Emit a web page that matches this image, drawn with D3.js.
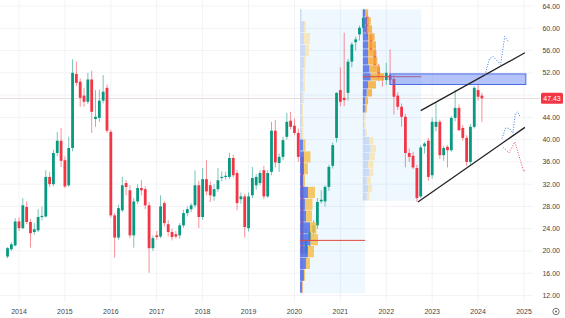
<!DOCTYPE html>
<html>
<head>
<meta charset="utf-8">
<script src="https://cdn.jsdelivr.net/npm/d3@7/dist/d3.min.js"></script>
<style>
body { margin: 0; background: #fff; }
svg { display: block; font-family: "Liberation Sans", Arial, sans-serif; }
</style>
</head>
<body>
<svg id="chart" width="565" height="318"></svg>
<script>
// monthly candles, first one is Oct 2013 : [open, high, low, close]
var firstMonth = 2013 + 9 / 12;
var candles = [
  [19.0, 20.7, 18.7, 20.5], [20.3, 21.6, 20.0, 21.2], [21.0, 25.9, 20.8, 25.3],
  [25.3, 26.0, 23.6, 24.1], [24.1, 29.5, 23.9, 28.2], [27.9, 28.9, 24.8, 25.2],
  [25.2, 25.8, 20.6, 23.2], [23.4, 25.0, 22.9, 23.9], [23.7, 27.5, 23.4, 26.1],
  [26.1, 28.0, 25.5, 26.3], [26.2, 34.5, 26.0, 33.3], [33.3, 34.2, 31.5, 32.0],
  [32.0, 38.2, 31.6, 37.6], [37.6, 41.4, 37.0, 39.8], [39.8, 42.1, 35.1, 36.2],
  [36.3, 37.0, 31.3, 31.6], [31.8, 40.5, 31.5, 38.5], [38.5, 54.4, 37.9, 52.0],
  [51.8, 54.0, 49.6, 50.2], [50.4, 51.0, 45.9, 47.5], [47.9, 49.3, 45.9, 46.8],
  [46.8, 52.0, 46.4, 50.8], [50.8, 52.4, 41.2, 45.0], [43.7, 48.9, 42.3, 44.1],
  [43.9, 49.0, 43.2, 47.0], [47.0, 51.6, 46.5, 48.6], [49.3, 49.9, 41.2, 41.6],
  [41.4, 41.8, 26.0, 26.4], [26.4, 26.8, 18.8, 22.4], [22.4, 28.3, 22.0, 27.7],
  [27.3, 33.3, 27.0, 31.8], [32.2, 32.7, 30.0, 31.5], [30.9, 31.8, 22.3, 22.8],
  [22.8, 29.5, 20.6, 28.9], [28.9, 32.0, 28.4, 31.3], [31.3, 32.7, 30.0, 30.9],
  [31.1, 31.6, 27.5, 28.2], [28.2, 28.8, 16.1, 20.5], [20.5, 22.8, 20.0, 22.3],
  [22.8, 23.6, 22.0, 22.5], [22.6, 30.0, 22.3, 28.0], [28.6, 29.0, 24.4, 25.0],
  [24.8, 25.5, 22.6, 23.4], [23.4, 24.0, 21.9, 22.5], [23.0, 23.6, 22.2, 22.6],
  [22.8, 25.0, 22.2, 24.6], [24.6, 27.4, 24.2, 26.8], [26.8, 28.0, 26.2, 27.5],
  [27.5, 28.6, 27.0, 28.2], [28.2, 34.5, 27.8, 31.8], [31.8, 32.6, 24.1, 26.1],
  [26.1, 34.9, 25.6, 32.9], [32.9, 36.3, 30.0, 30.7], [31.8, 32.5, 28.8, 30.0],
  [29.8, 32.0, 29.0, 31.1], [31.1, 34.9, 30.6, 32.7], [33.1, 34.3, 32.5, 33.3],
  [33.3, 34.2, 32.8, 33.5], [33.3, 37.6, 32.9, 36.7], [36.7, 37.3, 33.2, 33.6],
  [34.0, 34.5, 27.3, 28.6], [29.3, 30.5, 28.5, 29.8], [29.8, 30.3, 22.4, 24.3],
  [24.1, 30.5, 23.5, 29.8], [30.0, 35.1, 29.5, 33.1], [31.8, 33.8, 31.0, 33.3],
  [32.2, 34.5, 31.8, 34.0], [34.5, 35.3, 29.3, 29.8], [29.8, 34.5, 29.5, 34.0],
  [34.2, 43.2, 33.6, 41.6], [41.6, 43.5, 35.0, 35.9], [35.8, 37.5, 34.2, 36.9],
  [36.9, 40.5, 36.3, 39.9], [40.5, 44.8, 40.0, 43.2], [43.4, 45.0, 41.8, 42.3],
  [42.5, 43.8, 40.8, 41.2], [41.2, 42.0, 36.0, 36.9], [36.9, 37.5, 12.4, 19.5],
  [19.5, 24.0, 18.5, 22.0], [22.0, 24.5, 20.5, 23.5], [23.3, 25.5, 22.5, 24.6],
  [24.6, 29.5, 24.0, 28.8], [28.9, 30.9, 28.5, 29.2], [28.9, 31.8, 28.0, 31.5],
  [31.5, 35.5, 30.8, 35.1], [35.3, 39.5, 34.8, 39.0], [40.3, 48.5, 39.5, 48.4],
  [48.9, 53.0, 46.0, 46.8], [47.5, 59.2, 46.0, 47.1], [48.4, 54.5, 47.0, 54.0],
  [54.0, 57.5, 53.0, 57.1], [57.5, 58.5, 56.0, 58.0], [58.9, 60.5, 57.8, 60.1],
  [60.1, 63.4, 59.0, 61.9], [62.1, 63.0, 58.5, 59.2], [58.9, 59.5, 55.5, 56.0],
  [56.0, 57.0, 52.5, 53.4], [53.0, 53.6, 50.5, 51.3], [51.0, 51.8, 49.5, 50.8],
  [50.7, 53.8, 49.8, 52.0], [51.6, 56.2, 49.9, 50.7], [50.9, 51.6, 44.5, 47.7],
  [47.9, 48.5, 45.3, 45.9], [45.9, 46.5, 42.3, 44.1], [44.1, 44.6, 35.0, 37.6],
  [37.6, 38.4, 36.0, 36.9], [37.1, 37.8, 34.7, 35.0], [34.9, 35.5, 28.8, 29.5],
  [29.8, 39.0, 29.5, 38.6], [38.8, 39.6, 37.5, 39.3], [39.8, 40.3, 32.6, 33.3],
  [33.6, 44.0, 33.0, 43.2], [42.3, 46.6, 41.5, 43.2], [43.2, 43.6, 36.5, 37.2],
  [37.2, 38.8, 36.2, 38.5], [38.7, 39.0, 35.0, 38.1], [38.1, 44.2, 37.8, 43.9],
  [43.9, 48.9, 43.3, 45.7], [45.7, 46.3, 41.5, 41.7], [42.1, 42.6, 39.8, 40.3],
  [40.3, 40.8, 35.3, 36.0], [36.0, 42.8, 35.5, 42.3], [42.3, 49.6, 42.0, 49.3],
  [48.9, 50.0, 47.0, 47.7], [47.9, 48.4, 43.2, 47.43]
];

var yearTicks = [2014, 2015, 2016, 2017, 2018, 2019, 2020, 2021, 2022, 2023, 2024, 2025];
var priceTicks = [12, 16, 20, 24, 28, 32, 36, 40, 44, 48, 52, 56, 60, 64];
var lastPrice = 47.43;

// volume profile 1 (2020 -> mid 2021), 24 rows from bottom : up / down volume
var vp1Range = { t0: 2020.12, t1: 2021.54, lo: 12.4, hi: 63.4, poc: 21.9, vaLo: 0, vaHi: 12 };
var vp1Up   = [2, 4, 6, 8, 10.5, 10, 6, 5, 8, 3, 4, 4, 3, 2, 2, 2, 2.5, 3, 3, 4, 5, 4, 4, 1];
var vp1Down = [0.5, 1, 4, 6, 7.5, 6.5, 6, 7.5, 7, 2, 4, 6.5, 2.5, 1.5, 1.5, 1, 1.5, 2, 2, 2, 4, 6, 2, 1];

// volume profile 2 (mid 2021 -> late 2022)
var vp2Range = { t0: 2021.49, t1: 2022.76, lo: 29.0, hi: 63.4, poc: 51.3, vaLo: 11, vaHi: 23 };
var vp2Up   = [3, 4, 3, 5, 4, 5, 6, 5, 2, 1, 1, 1.5, 2, 3, 4, 6, 5, 4, 4, 4, 4, 3, 3, 2];
var vp2Down = [2, 3, 3, 3, 4, 4, 4, 3, 1, 1, 1, 1.5, 2, 4, 6, 10, 8, 7, 6, 6, 5, 4, 3, 2];

// drawings
var zoneBox = { t0: 2022.08, t1: 2025.04, lo: 49.9, hi: 51.8 };
var channelTop = [[2022.75, 45.2], [2025.02, 55.6]];
var channelBottom = [[2022.69, 28.8], [2025.02, 42.2]];
var pathBlueUp = [[2024.15, 51.6], [2024.25, 54.6], [2024.33, 54.9], [2024.49, 53.5], [2024.58, 58.5], [2024.66, 57.6]];
var pathBlueDown = [[2024.52, 40.2], [2024.6, 42.1], [2024.68, 42.0], [2024.76, 41.2], [2024.81, 44.6], [2024.86, 45.0], [2024.91, 44.2]];
var pathRedDown = [[2024.55, 38.6], [2024.67, 37.6], [2024.8, 39.6], [2024.92, 36.3], [2024.99, 34.3], [2025.05, 34.6]];

var green = "#089981", red = "#f23645";

var svg = d3.select("#chart");
var x = d3.scaleLinear().domain([2014, 2025]).range([19, 524]);
var y = d3.scaleLinear().domain([12, 64]).range([295.5, 6]);
var plotRight = 533, plotBottom = 302;

// grid
svg.append("g").selectAll("line").data(priceTicks).enter().append("line")
  .attr("x1", 0).attr("x2", plotRight)
  .attr("y1", function(d) { return y(d); }).attr("y2", function(d) { return y(d); })
  .attr("stroke", "#f2f3f6").attr("stroke-width", 1);
svg.append("g").selectAll("line").data(yearTicks).enter().append("line")
  .attr("x1", function(d) { return x(d); }).attr("x2", function(d) { return x(d); })
  .attr("y1", 0).attr("y2", plotBottom)
  .attr("stroke", "#f2f3f6").attr("stroke-width", 1);

// volume profile backgrounds
[vp1Range, vp2Range].forEach(function(r) {
  svg.append("rect")
    .attr("x", x(r.t0)).attr("y", y(r.hi))
    .attr("width", x(r.t1) - x(r.t0)).attr("height", y(r.lo) - y(r.hi))
    .attr("fill", "#2196f3").attr("fill-opacity", 0.07);
});

// last price line
svg.append("line")
  .attr("x1", 0).attr("x2", 540)
  .attr("y1", Math.round(y(lastPrice)) + 0.5).attr("y2", Math.round(y(lastPrice)) + 0.5)
  .attr("stroke", "#e9dcde").attr("stroke-width", 1);

// candles
var bw = 2.8;
var cg = svg.append("g");
candles.forEach(function(c, i) {
  var t = firstMonth + i / 12;
  var cx = x(t);
  var up = c[3] >= c[0];
  var col = up ? green : red;
  cg.append("line")
    .attr("x1", cx).attr("x2", cx)
    .attr("y1", y(c[1])).attr("y2", y(c[2]))
    .attr("stroke", col).attr("stroke-opacity", 0.55).attr("stroke-width", 1);
  var top = y(Math.max(c[0], c[3])), bot = y(Math.min(c[0], c[3]));
  cg.append("rect")
    .attr("x", cx - bw / 2).attr("y", top)
    .attr("width", bw).attr("height", Math.max(1, bot - top))
    .attr("fill", col);
});

// volume profiles
function drawProfile(r, upVol, downVol, maxW, downCol) {
  var rows = upVol.length;
  var step = (r.hi - r.lo) / rows;
  var maxVol = d3.max(upVol.map(function(u, i) { return u + downVol[i]; }));
  var w = d3.scaleLinear().domain([0, maxVol]).range([0, maxW]);
  var g = svg.append("g");
  var x0 = x(r.t0);
  upVol.forEach(function(u, i) {
    var inVa = i >= r.vaLo && i <= r.vaHi;
    var y0 = y(r.lo + (i + 1) * step), h = y(r.lo + i * step) - y0 - 0.6;
    g.append("rect").attr("x", x0).attr("y", y0).attr("width", w(u)).attr("height", h)
      .attr("fill", inVa ? "#4f6ee8" : "#c5d6f6").attr("fill-opacity", inVa ? 0.85 : 0.9);
    g.append("rect").attr("x", x0 + w(u)).attr("y", y0).attr("width", w(downVol[i])).attr("height", h)
      .attr("fill", inVa ? downCol : "#f6e4b6").attr("fill-opacity", inVa ? 0.85 : 0.9);
  });
  g.append("line")
    .attr("x1", x0).attr("x2", x(r.t1))
    .attr("y1", y(r.poc)).attr("y2", y(r.poc))
    .attr("stroke", "#e0483e").attr("stroke-width", 1);
}
drawProfile(vp1Range, vp1Up, vp1Down, 18, "#f5bf4f");
drawProfile(vp2Range, vp2Up, vp2Down, 21, "#f5ad3c");

// resistance zone
svg.append("rect")
  .attr("x", x(zoneBox.t0)).attr("y", y(zoneBox.hi))
  .attr("width", x(zoneBox.t1) - x(zoneBox.t0)).attr("height", y(zoneBox.lo) - y(zoneBox.hi))
  .attr("fill", "#5b7cf0").attr("fill-opacity", 0.45)
  .attr("stroke", "#4a6ae8").attr("stroke-width", 1);

// channel
var line = d3.line().x(function(d) { return x(d[0]); }).y(function(d) { return y(d[1]); });
[channelTop, channelBottom].forEach(function(p) {
  svg.append("path").attr("d", line(p)).attr("fill", "none")
    .attr("stroke", "#222").attr("stroke-width", 1.3);
});

// projected paths
[[pathBlueUp, "#2f7de1"], [pathBlueDown, "#2f7de1"], [pathRedDown, "#e8505b"]].forEach(function(p) {
  svg.append("path").attr("d", line(p[0])).attr("fill", "none")
    .attr("stroke", p[1]).attr("stroke-width", 1).attr("stroke-dasharray", "1,1.6");
});

// y axis labels (the one under the price tag is hidden, like the platform does)
var shownTicks = priceTicks.filter(function(d) { return Math.abs(y(d) - y(lastPrice)) > 9; });
svg.append("g").selectAll("text").data(shownTicks).enter().append("text")
  .attr("x", 560).attr("y", function(d) { return y(d) + 2.5; })
  .attr("text-anchor", "end").attr("font-size", 7).attr("fill", "#444")
  .text(function(d) { return d.toFixed(2); });

// last price tag
svg.append("rect")
  .attr("x", 541).attr("y", y(lastPrice) - 5.5).attr("width", 22).attr("height", 11)
  .attr("rx", 1.5).attr("fill", red);
svg.append("text")
  .attr("x", 552).attr("y", y(lastPrice) + 2.5)
  .attr("text-anchor", "middle").attr("font-size", 7).attr("fill", "#fff")
  .text(lastPrice.toFixed(2));

// x axis labels
svg.append("g").selectAll("text").data(yearTicks).enter().append("text")
  .attr("x", function(d) { return x(d); }).attr("y", 314)
  .attr("text-anchor", "middle").attr("font-size", 7).attr("fill", "#444")
  .text(function(d) { return d; });

// settings icon
svg.append("circle").attr("cx", 556).attr("cy", 311.5).attr("r", 3.2)
  .attr("fill", "none").attr("stroke", "#666").attr("stroke-width", 0.9);
svg.append("circle").attr("cx", 556).attr("cy", 311.5).attr("r", 1)
  .attr("fill", "#666");
</script>
</body>
</html>
